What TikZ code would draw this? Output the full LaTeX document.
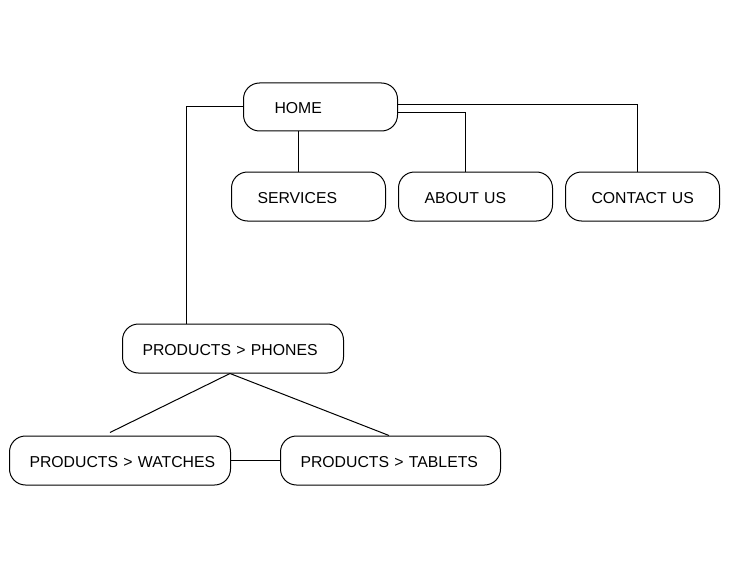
\documentclass[tikz,border=0pt]{standalone}
\usepackage{fontspec}
\setmainfont{Liberation Sans}
\usetikzlibrary{calc}
\tikzset{
  box/.style 2 args={draw, line width=1pt, rounded corners=16pt, minimum height=49pt,
    inner ysep=0pt, inner xsep=#2, text width=#1, align=left, anchor=west,
    text height=13.5pt, text depth=0pt,
    font=\fontsize{15.8}{19}\selectfont},
  link/.style={draw, line width=1pt}
}
\begin{document}
\begin{tikzpicture}[x=1pt,y=-1pt]
\useasboundingbox (0,0) rectangle (744,567);
\node[box={92pt}{31pt}, minimum height=48pt] (home) at (243,107) {\mbox{HOME}};
\node[box={102pt}{26pt}] (services) at (231,196.5) {\mbox{SERVICES}};
\node[box={102pt}{26pt}] (about) at (398,196.5) {\mbox{ABOUT US}};
\node[box={102pt}{26pt}] (contact) at (565,196.5) {\mbox{CONTACT US}};
\node[box={181pt}{20pt}] (phones) at (122,348.5) {\mbox{PRODUCTS > PHONES}};
\node[box={181pt}{20pt}] (watches) at (9,460.5) {\mbox{PRODUCTS > WATCHES}};
\node[box={180pt}{20pt}] (tablets) at (280,460.5) {\mbox{PRODUCTS > TABLETS}};

\path[link] (home.west) -| ($(phones.north west)+(64,0)$);
\path[link] ($(home.south west)+(55,0)$) -- ($(services.north west)+(67,0)$);
\path[link] ($(home.east)+(0,6)$) -| ($(about.north west)+(67,0)$);
\path[link] ($(home.east)+(0,-2)$) -| ($(contact.north west)+(72,0)$);
\path[link] ($(phones.south west)+(108,0)$) -- ($(watches.north west)+(101,-3)$);
\path[link] ($(phones.south west)+(108,0)$) -- ($(tablets.north west)+(109,0)$);
\path[link] (watches.east) -- (tablets.west);
\end{tikzpicture}
\end{document}
